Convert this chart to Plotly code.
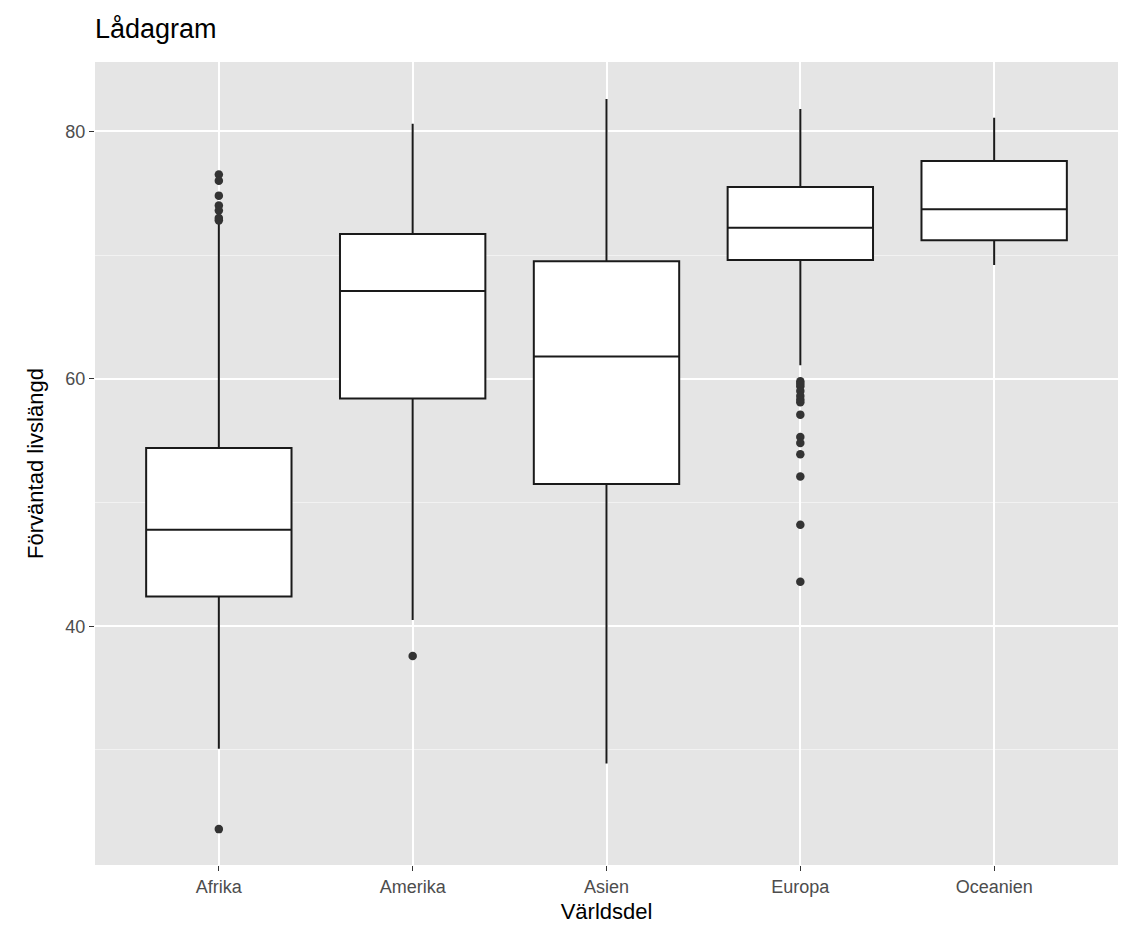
import plotly.graph_objects as go

# box statistics
continents = ["Afrika", "Amerika", "Asien", "Europa", "Oceanien"]
q1 = [42.4, 58.4, 51.5, 69.6, 71.2]
median = [47.8, 67.1, 61.8, 72.2, 73.7]
q3 = [54.4, 71.7, 69.5, 75.5, 77.6]
lower = [30.1, 40.5, 28.9, 61.1, 69.2]
upper = [72.8, 80.6, 82.6, 81.8, 81.1]

outlier_x = (["Afrika"] * 8 + ["Amerika"] + ["Europa"] * 14)
outlier_y = [76.5, 76.0, 74.8, 74.0, 73.6, 73.0, 72.8, 23.6,
             37.6,
             59.8, 59.4, 59.0, 58.6, 58.3, 58.1, 57.1, 55.3, 54.8, 53.9, 52.1,
             48.2, 43.6, 59.6]

fig = go.Figure()
fig.add_trace(go.Box(x=continents, q1=q1, median=median, q3=q3,
                     lowerfence=lower, upperfence=upper, width=0.75, whiskerwidth=0,
                     fillcolor="white", line=dict(color="#1a1a1a", width=2),
                     boxpoints=False, showlegend=False, hoverinfo="skip"))
fig.add_trace(go.Scatter(x=outlier_x, y=outlier_y, mode="markers",
                         marker=dict(color="#333333", size=8.5), showlegend=False))

fig.update_layout(
    width=1133, height=944, paper_bgcolor="white", plot_bgcolor="#e5e5e5",
    margin=dict(l=87, r=23, t=54, b=87),
    font=dict(family="Liberation Sans, Arial", color="#1a1a1a"),
    title=dict(text="Lådagram", x=87 / 1133, xanchor="left", y=0.978, yanchor="middle",
               font=dict(size=27, color="black")),
)
fig.update_xaxes(title=dict(text="Världsdel", font=dict(size=22, color="black"), standoff=8),
                 showgrid=True, gridcolor="white", gridwidth=1.8,
                 tickfont=dict(size=18, color="#4d4d4d"), ticks="outside",
                 ticklen=5, tickcolor="#333333", zeroline=False)
fig.update_yaxes(title=dict(text="Förväntad livslängd", font=dict(size=22, color="black")),
                 range=[20.7, 85.6], tickvals=[40, 60, 80],
                 showgrid=True, gridcolor="white", gridwidth=1.8,
                 minor=dict(tickvals=[30, 50, 70], showgrid=True, gridcolor="#f2f2f2", gridwidth=1),
                 tickfont=dict(size=18, color="#4d4d4d"), ticks="outside",
                 ticklen=5, tickcolor="#333333", zeroline=False)

fig.write_html("out.html")
